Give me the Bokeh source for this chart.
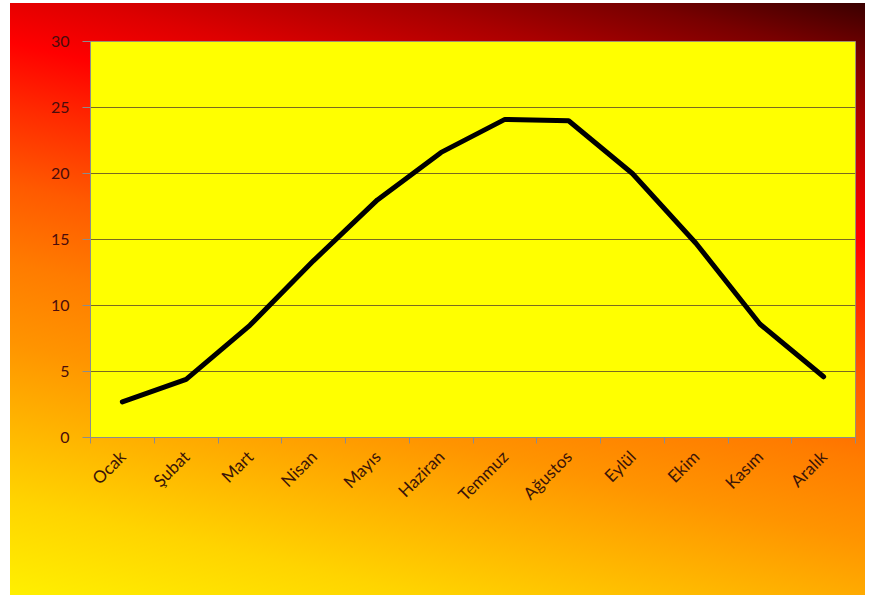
from bokeh.plotting import figure
from bokeh.models import Range1d, FixedTicker, CustomJSTickFormatter, ColumnDataSource
from bokeh.embed import file_html
from bokeh.resources import INLINE
import math

months = ["Ocak", "Şubat", "Mart", "Nisan", "Mayıs", "Haziran",
          "Temmuz", "Ağustos", "Eylül", "Ekim", "Kasım", "Aralık"]
temps = [2.7, 4.4, 8.5, 13.4, 18.0, 21.6, 24.1, 24.0, 20.0, 14.7, 8.6, 4.6]
y_ticks = [0, 5, 10, 15, 20, 25, 30]

xs = [i + 0.5 for i in range(len(months))]
src = ColumnDataSource(dict(x=xs, y=temps))

p = figure(width=865, height=595, output_backend="svg", toolbar_location=None,
           x_range=Range1d(0, len(months)), y_range=Range1d(0, 30),
           min_border_left=90, min_border_right=10, min_border_top=41, min_border_bottom=158)

grad = ("linear-gradient(13deg, #fff000 0%, #ffd400 12%, #ffb400 22%, #ff9400 32%, "
        "#ff7c00 42%, #ff5a00 52%, #ff2a00 62%, #ff0000 70%, #dd0000 77%, "
        "#a80000 86%, #780000 93%, #3a0000 100%)")
p.styles = {"background-color": "white",
            "background-image": grad,
            "background-repeat": "no-repeat",
            "background-position": "10px 3px",
            "background-size": "855px 592px",
            "box-shadow": "inset 10px 3px 0 0 white"}
p.border_fill_color = None
p.background_fill_color = "#ffff00"
p.outline_line_color = "#a09070"
p.outline_line_width = 1

p.line("x", "y", source=src, line_color="black", line_width=5, line_join="round", line_cap="round")

# x axis
p.xaxis.ticker = FixedTicker(ticks=xs, minor_ticks=list(range(len(months) + 1)))
p.xaxis.formatter = CustomJSTickFormatter(args=dict(labels=months),
                                          code="return labels[Math.floor(tick)];")
p.xaxis.major_label_orientation = math.pi / 4
p.xaxis.major_tick_line_color = None
p.xaxis.minor_tick_line_color = "#8c8c8c"
p.xaxis.minor_tick_out = 6
p.xaxis.minor_tick_in = 0
p.xaxis.axis_line_color = "#8c8c8c"
p.xaxis.major_label_standoff = 10
p.xaxis.major_label_text_font = "Lato"
p.xaxis.major_label_text_font_size = "17px"
p.xaxis.major_label_text_color = "#3a1408"

# y axis
p.yaxis.ticker = FixedTicker(ticks=y_ticks)
p.yaxis.major_tick_out = 8
p.yaxis.major_tick_in = 0
p.yaxis.minor_tick_line_color = None
p.yaxis.major_tick_line_color = "#8c8c8c"
p.yaxis.axis_line_color = "#8c8c8c"
p.yaxis.major_label_standoff = 13
p.yaxis.major_label_text_font = "Lato"
p.yaxis.major_label_text_font_size = "16px"
p.yaxis.major_label_text_color = "#4a0c0c"

p.xgrid.grid_line_color = None
p.ygrid.grid_line_color = "#7a6a20"
p.ygrid.grid_line_width = 1

open("out.html", "w").write(file_html(p, INLINE))
